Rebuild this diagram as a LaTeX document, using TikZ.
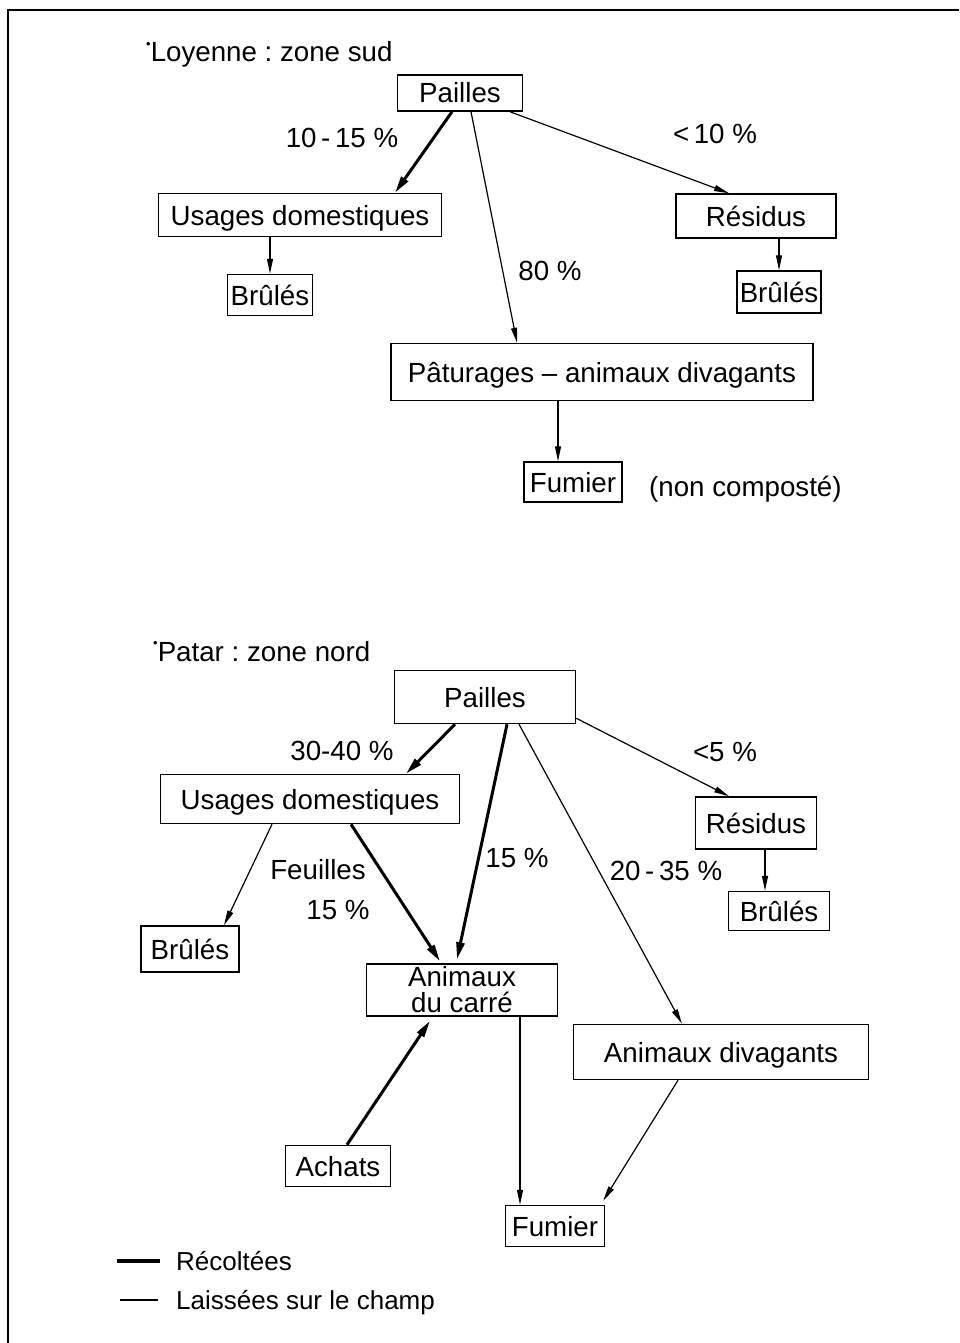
\documentclass[tikz,border=0pt]{standalone}
\usepackage{fontspec}
\setmainfont{Liberation Sans}
\usetikzlibrary{arrows.meta,calc}
\frenchspacing
\newcommand{\titledot}{\raisebox{0.5em}{\fontsize{13}{13}\selectfont\textbullet}}
\begin{document}
\begin{tikzpicture}[x=1pt,y=-1pt,
  font=\fontsize{27.7}{26}\selectfont,
  box/.style={draw, line width=1.5pt, inner sep=0pt, text height=25pt, text depth=5pt},
  lbl/.style={inner sep=0pt, text height=25pt, text depth=5pt},
  laisse/.style={line width=1.2pt, -{Triangle[length=15pt,width=6pt]}},
  recolte/.style={line width=3pt, -{Triangle[length=17pt,width=8pt]}},
]
\useasboundingbox (0,0) rectangle (959,1343);
\fill[white] (0,0) rectangle (959,1343);
\draw[line width=2pt] (8,1343) -- (8,10) -- (959,10);

% ---------- Loyenne : zone sud ----------
\node[lbl, anchor=west] (T1) at (146,52) {\titledot Loyenne : zone sud};
\node[box, minimum width=125pt, minimum height=36pt] (P1) at (460,93) {Pailles};
\node[box, minimum width=283pt, minimum height=43pt] (U1) at (300,215) {Usages domestiques};
\node[box, minimum width=85pt, minimum height=41pt] (B1) at (270,295) {Brûlés};
\node[box, minimum width=160pt, minimum height=44pt] (R1) at (756,216) {Résidus};
\node[box, minimum width=84pt, minimum height=42pt] (B2) at (779,292) {Brûlés};
\node[box, minimum width=422pt, minimum height=57pt] (Pat) at (602,372) {Pâturages -- animaux divagants};
\node[box, minimum width=98pt, minimum height=40pt] (F1) at (573,482) {Fumier};
\node[lbl, anchor=west] (NC) at (649,486) {(non composté)};

\node[lbl] (L1) at (342,138) {10\,-\,15 \%};
\node[lbl] (L2) at (715,134) {<\,10 \%};
\node[lbl] (L3) at (550,270) {80 \%};

\draw[recolte] ([xshift=-8pt]P1.south) -- ([xshift=95pt]U1.north);
\draw[laisse] ([xshift=50pt]P1.south) -- ([xshift=-27pt]R1.north);
\draw[laisse] ([xshift=11pt]P1.south) -- ([xshift=-85pt]Pat.north);
\draw[laisse] (B1.north |- U1.south) -- (B1.north);
\draw[laisse] (B2.north |- R1.south) -- (B2.north);
\draw[laisse] ([xshift=-15pt]F1.north |- Pat.south) -- ([xshift=-15pt]F1.north);

% ---------- Patar : zone nord ----------
\node[lbl, anchor=west] (T2) at (153,651) {\titledot Patar : zone nord};
\node[box, minimum width=181pt, minimum height=53pt] (P2) at (485,697) {Pailles};
\node[box, minimum width=299pt, minimum height=49pt] (U2) at (310,799) {Usages domestiques};
\node[box, minimum width=121pt, minimum height=52pt] (R2) at (756,823) {Résidus};
\node[box, minimum width=101pt, minimum height=39pt] (B4) at (779,911) {Brûlés};
\node[box, minimum width=98pt, minimum height=46pt] (B3) at (190,949) {Brûlés};
\node[draw, line width=1.5pt, inner sep=0pt, minimum width=191pt, minimum height=52pt, align=center] (AC) at (462,990) {Animaux\\du carré};
\node[box, minimum width=295pt, minimum height=55pt] (AD) at (721,1052) {Animaux divagants};
\node[box, minimum width=105pt, minimum height=41pt] (Ach) at (338,1166) {Achats};
\node[box, minimum width=99pt, minimum height=41pt] (F2) at (555,1226) {Fumier};

\node[lbl] (M1) at (342,750) {30-40 \%};
\node[lbl] (M2) at (725,751) {<5 \%};
\node[lbl] (M3) at (517,857) {15 \%};
\node[lbl] (M4) at (666,870) {20\,-\,35 \%};
\node[lbl] (M5) at (318,869) {Feuilles};
\node[lbl] (M6) at (338,909) {15 \%};

\draw[recolte] ([xshift=-30pt]P2.south) -- ([xshift=96pt]U2.north);
\draw[laisse] ([yshift=6pt]P2.south east) -- ([xshift=-27pt]R2.north);
\draw[recolte] ([xshift=22pt]P2.south) -- ([xshift=-5pt,yshift=4pt]AC.north);
\draw[laisse] ([xshift=34pt]P2.south) -- ([xshift=-39pt]AD.north);
\draw[laisse] ([xshift=-38pt]U2.south) -- ([xshift=34pt]B3.north);
\draw[recolte] ([xshift=41pt]U2.south) -- ([xshift=-22pt,yshift=2pt]AC.north);
\draw[laisse] ([xshift=-14pt]B4.north |- R2.south) -- ([xshift=-14pt]B4.north);
\draw[recolte] ([xshift=9pt]Ach.north) -- ([xshift=-32pt,yshift=-4pt]AC.south);
\draw[laisse] ([xshift=-35pt]F2.north |- AC.south) -- ([xshift=-35pt]F2.north);
\draw[laisse] ([xshift=-43pt]AD.south) -- ([xshift=-2pt,yshift=4pt]F2.north east);

% ---------- legend ----------
\coordinate (k1a) at (117,1261);
\coordinate (k1b) at (160,1261);
\coordinate (k2a) at (120,1300);
\coordinate (k2b) at (158,1300);
\draw[line width=3.5pt] (k1a) -- (k1b);
\draw[line width=1.2pt] (k2a) -- (k2b);
\node[lbl, anchor=west, font=\fontsize{26}{26}\selectfont, text height=23pt, text depth=5pt] (K1) at (176,1261) {Récoltées};
\node[lbl, anchor=west, font=\fontsize{26}{26}\selectfont, text height=23pt, text depth=5pt] (K2) at (176,1300) {Laissées sur le champ};
\end{tikzpicture}
\end{document}
